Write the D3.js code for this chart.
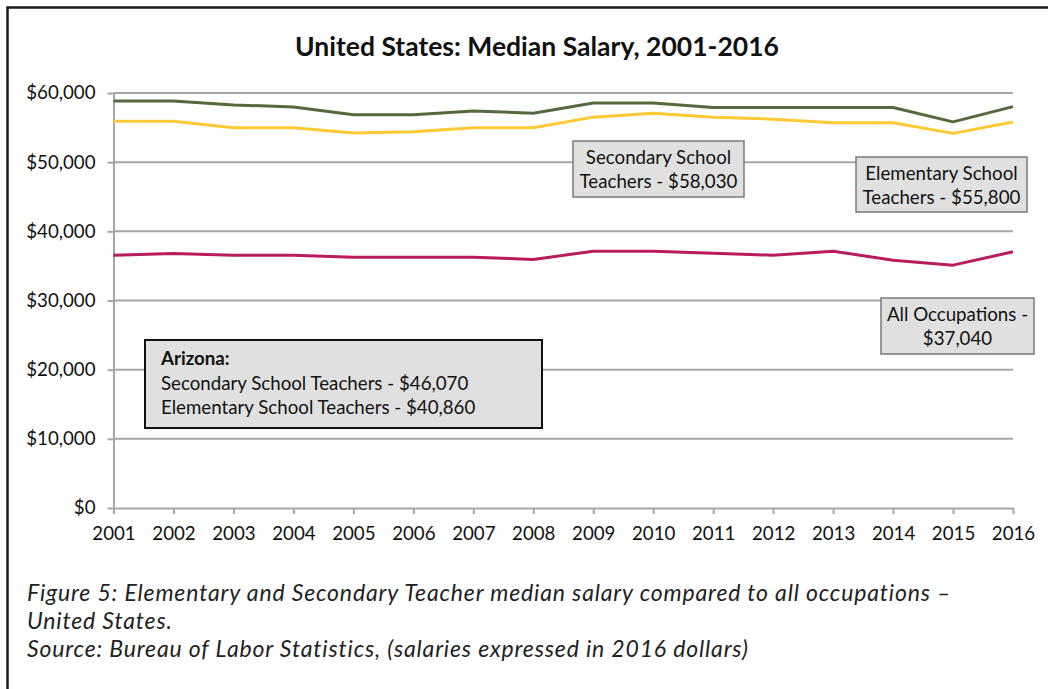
<!DOCTYPE html>
<html>
<head>
<meta charset="utf-8">
<script src="https://cdn.jsdelivr.net/npm/d3@7"></script>
<style>
  body { margin: 0; background: #fff; }
  svg { display: block; }
  .axis text { font-family: Lato, "Open Sans", sans-serif; font-size: 18.7px; fill: #111; }
  .axis path, .axis line { stroke: #a6a6a6; stroke-width: 2; }
</style>
</head>
<body>
<div id="chart"></div>
<script>
// years on the x axis
var years = [2001, 2002, 2003, 2004, 2005, 2006, 2007, 2008, 2009, 2010, 2011, 2012, 2013, 2014, 2015, 2016];

// median salary, 2016 dollars
var secondary  = [58850, 58850, 58280, 57990, 56840, 56840, 57410, 57080, 58560, 58560, 57900, 57900, 57900, 57900, 55830, 58030];
var elementary = [55900, 55900, 54970, 54970, 54210, 54400, 54970, 54970, 56510, 57080, 56510, 56220, 55690, 55690, 54160, 55800];
var allOcc     = [36550, 36790, 36550, 36550, 36260, 36260, 36260, 35930, 37130, 37130, 36840, 36550, 37130, 35830, 35110, 37040];

var yTicks = [0, 10000, 20000, 30000, 40000, 50000, 60000];

var width = 1048, height = 689;

var svg = d3.select("#chart").append("svg")
  .attr("width", width)
  .attr("height", height);

// outer frame (open on right and bottom, like the cropped figure)
svg.append("path")
  .attr("d", "M7.5,689 V7.5 H1048")
  .attr("fill", "none")
  .attr("stroke", "#1a1a1a")
  .attr("stroke-width", 2.5);

var x = d3.scaleLinear().domain([2001, 2016]).range([113.5, 1013]);
var y = d3.scaleLinear().domain([0, 60000]).range([508, 93]);

// title
svg.append("text")
  .attr("x", 537).attr("y", 56)
  .attr("text-anchor", "middle")
  .style("font-family", "Lato, 'Open Sans', sans-serif")
  .style("font-weight", "bold")
  .style("font-size", "26.5px")
  .attr("fill", "#111")
  .text("United States: Median Salary, 2001-2016");

// horizontal gridlines
svg.append("g")
  .selectAll("line")
  .data(yTicks.filter(function (d) { return d > 0; }))
  .enter().append("line")
    .attr("x1", x(2001)).attr("x2", x(2016))
    .attr("y1", function (d) { return y(d); })
    .attr("y2", function (d) { return y(d); })
    .attr("stroke", "#a6a6a6")
    .attr("stroke-width", 2);

// y axis
svg.append("g")
  .attr("class", "axis")
  .attr("transform", "translate(" + x(2001) + ",0)")
  .call(d3.axisLeft(y).tickValues(yTicks).tickFormat(d3.format("$,")).tickSize(6).tickSizeOuter(0).tickPadding(12));

// x axis
svg.append("g")
  .attr("class", "axis")
  .attr("transform", "translate(0," + y(0) + ")")
  .call(d3.axisBottom(x).tickValues(years).tickFormat(d3.format("d")).tickSize(6).tickSizeOuter(0).tickPadding(13));

// lines
var series = [
  { values: allOcc,     color: "#b81c5c" },
  { values: elementary, color: "#fdc935" },
  { values: secondary,  color: "#56693d" }
];

var line = d3.line()
  .x(function (d, i) { return x(years[i]); })
  .y(function (d) { return y(d); });

svg.append("g")
  .selectAll("path")
  .data(series)
  .enter().append("path")
    .attr("d", function (d) { return line(d.values); })
    .attr("fill", "none")
    .attr("stroke", function (d) { return d.color; })
    .attr("stroke-width", 3)
    .attr("stroke-linejoin", "round");

// callout boxes
function callout(x0, y0, w, h, lines, opts) {
  opts = opts || {};
  var g = svg.append("g");
  g.append("rect")
    .attr("x", x0).attr("y", y0).attr("width", w).attr("height", h)
    .attr("fill", "#e0e0e0")
    .attr("stroke", opts.stroke || "#7a7a7a")
    .attr("stroke-width", opts.strokeWidth || 1.5);
  g.selectAll("text")
    .data(lines)
    .enter().append("text")
      .attr("x", opts.left ? x0 + 16 : x0 + w / 2)
      .attr("y", function (d, i) { return y0 + opts.first + i * opts.step; })
      .attr("text-anchor", opts.left ? "start" : "middle")
      .style("font-family", "Lato, 'Open Sans', sans-serif")
      .style("font-size", "18.7px")
      .style("font-weight", function (d, i) { return (opts.boldFirst && i === 0) ? "bold" : "normal"; })
      .attr("fill", "#111")
      .text(function (d) { return d; });
}

callout(573, 141, 171, 56, ["Secondary School", "Teachers - $58,030"], { first: 23, step: 24 });
callout(856, 157, 171, 55, ["Elementary School", "Teachers - $55,800"], { first: 23, step: 24 });
callout(881, 298, 153, 56, ["All Occupations -", "$37,040"], { first: 23, step: 24 });
callout(145, 340, 397, 88,
  ["Arizona:", "Secondary School Teachers - $46,070", "Elementary School Teachers - $40,860"],
  { first: 25, step: 24.5, left: true, boldFirst: true, stroke: "#111", strokeWidth: 2 });

// caption
var caption = [
  "Figure 5: Elementary and Secondary Teacher median salary compared to all occupations \u2013",
  "United States.",
  "Source: Bureau of Labor Statistics, (salaries expressed in 2016 dollars)"
];

svg.append("g")
  .selectAll("text")
  .data(caption)
  .enter().append("text")
    .attr("x", 27)
    .attr("y", function (d, i) { return 601 + i * 28; })
    .style("font-family", "Lato, 'Open Sans', sans-serif")
    .style("font-style", "italic")
    .style("font-size", "23px")
    .style("letter-spacing", "0.85px")
    .attr("fill", "#222")
    .text(function (d) { return d; });
</script>
</body>
</html>
